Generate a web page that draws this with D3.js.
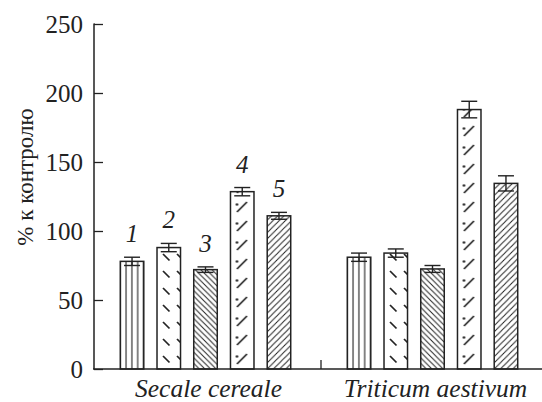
<!DOCTYPE html>
<html>
  <head>
    <meta charset="utf-8">
    <title>Chart</title>
    <script src="https://d3js.org/d3.v7.min.js"></script>
    <style>
      body { margin: 0; background: #fff; }
    </style>
  </head>
  <body>
    <script type="text/javascript">
    // data
    var species = ["Secale cereale", "Triticum aestivum"];
    var series = ["1", "2", "3", "4", "5"];
    var secaleValues = [78, 88, 72, 128.5, 111];
    var secaleErrors = [3, 3, 2, 3, 2.5];
    var triticumValues = [81, 84, 72.5, 188, 134.5];
    var triticumErrors = [3, 3, 2.5, 6, 5.5];
    var yTicks = [0, 50, 100, 150, 200, 250];

    var w = 542;
    var h = 402;
    var ink = "#222";
    var serif = "Liberation Serif";

    var rows = [];
    [secaleValues, triticumValues].forEach(function(vals, g) {
      var errs = g === 0 ? secaleErrors : triticumErrors;
      vals.forEach(function(v, i) {
        rows.push({ group: species[g], g: g, s: series[i], i: i, v: v, e: errs[i] });
      });
    });

    var x0 = d3.scaleBand().domain(species).range([92, 546]);
    var x1 = d3.scaleBand().domain(series).range([0, x0.bandwidth()])
               .paddingInner(0.36).paddingOuter(0.77);
    var y = d3.scaleLinear().domain([0, 250]).range([369, 24]);

    function barX(d) { return x0(d.group) + x1(d.s); }

    var svg = d3.select("body").append("svg")
                .attr("width", w)
                .attr("height", h)
                .attr("font-family", serif);

    // hatch patterns, one per bar so the tiles start at the bar's left edge
    var defs = svg.append("defs");
    var tiles = {
      "1": [5.8, 10, function(p) {
        p.append("line").attr("x1", 0).attr("x2", 0).attr("y1", 0).attr("y2", 10)
         .attr("stroke", ink).attr("stroke-width", 1.1);
        p.append("line").attr("x1", 5.8).attr("x2", 5.8).attr("y1", 0).attr("y2", 10)
         .attr("stroke", ink).attr("stroke-width", 1.1);
      }],
      "2": [14, 17, function(p) {
        p.append("line").attr("x1", 6).attr("y1", 4).attr("x2", 12.5).attr("y2", 10.5)
         .attr("stroke", ink).attr("stroke-width", 1.7);
      }],
      "3": [5.6, 5.6, function(p) {
        p.append("path").attr("d", "M-1,-1L6.6,6.6M-3,2.6L3,8.6M2.6,-3L8.6,3")
         .attr("stroke", ink).attr("stroke-width", 1);
      }],
      "4": [24, 19, function(p) {
        p.append("line").attr("x1", 6.5).attr("y1", 14).attr("x2", 16.5).attr("y2", 4)
         .attr("stroke", ink).attr("stroke-width", 1.7);
        p.append("circle").attr("cx", 6.5).attr("cy", 6.5).attr("r", 1.3).attr("fill", ink);
      }],
      "5": [6.2, 6.2, function(p) {
        p.append("path").attr("d", "M-1,7.2L7.2,-1M-3,3L3,-3M3.2,9.2L9.2,3.2")
         .attr("stroke", ink).attr("stroke-width", 1);
      }]
    };
    rows.forEach(function(d) {
      var t = tiles[d.s];
      var p = defs.append("pattern")
        .attr("id", "p" + d.s + "_" + d.g)
        .attr("patternUnits", "userSpaceOnUse")
        .attr("x", barX(d))
        .attr("y", y(0))
        .attr("width", t[0])
        .attr("height", t[1]);
      p.append("rect").attr("width", t[0]).attr("height", t[1]).attr("fill", "#fff");
      t[2](p);
    });

    // bars
    svg.selectAll("rect.bar")
       .data(rows)
       .enter()
       .append("rect")
       .attr("class", "bar")
       .attr("x", barX)
       .attr("y", function(d) { return y(d.v); })
       .attr("width", x1.bandwidth())
       .attr("height", function(d) { return y(0) - y(d.v); })
       .attr("fill", function(d) { return "url(#p" + d.s + "_" + d.g + ")"; })
       .attr("stroke", ink)
       .attr("stroke-width", 1.5);

    // error bars
    var cap = 8;
    var eb = svg.selectAll("g.err")
       .data(rows)
       .enter()
       .append("g")
       .attr("class", "err")
       .attr("stroke", ink)
       .attr("stroke-width", 1.4)
       .attr("transform", function(d) {
         return "translate(" + (barX(d) + x1.bandwidth() / 2) + ",0)";
       });
    eb.append("line")
      .attr("y1", function(d) { return y(d.v - d.e); })
      .attr("y2", function(d) { return y(d.v + d.e); });
    eb.append("line")
      .attr("x1", -cap).attr("x2", cap)
      .attr("y1", function(d) { return y(d.v + d.e); })
      .attr("y2", function(d) { return y(d.v + d.e); });
    eb.append("line")
      .attr("x1", -cap).attr("x2", cap)
      .attr("y1", function(d) { return y(d.v - d.e); })
      .attr("y2", function(d) { return y(d.v - d.e); });

    // series numbers above first group
    svg.selectAll("text.num")
       .data(rows.filter(function(d) { return d.g === 0; }))
       .enter()
       .append("text")
       .attr("class", "num")
       .attr("text-anchor", "middle")
       .attr("font-style", "italic")
       .attr("font-size", 25)
       .attr("fill", ink)
       .attr("x", function(d) { return barX(d) + x1.bandwidth() / 2; })
       .attr("y", function(d) { return y(d.v + d.e) - 15; })
       .text(function(d) { return d.s; });

    // y axis
    var yAxis = d3.axisLeft(y)
                  .tickValues(yTicks)
                  .tickSize(-9)
                  .tickPadding(11);
    var ga = svg.append("g")
      .attr("transform", "translate(94,0)")
      .call(yAxis)
      .attr("font-family", serif)
      .attr("font-size", 25);
    ga.select(".domain").attr("stroke", ink).attr("stroke-width", 1.5)
      .attr("d", "M-0.5," + y(250) + "H0V" + y(0));
    ga.selectAll(".tick line").attr("stroke", ink).attr("stroke-width", 1.3);
    ga.selectAll(".tick text").attr("fill", ink);

    // x axis baseline and group separator
    svg.append("line")
       .attr("x1", 93).attr("x2", w)
       .attr("y1", y(0)).attr("y2", y(0))
       .attr("stroke", ink).attr("stroke-width", 1.5);
    svg.append("line")
       .attr("x1", x0(species[1]) + 2).attr("x2", x0(species[1]) + 2)
       .attr("y1", y(0) - 9).attr("y2", y(0))
       .attr("stroke", ink).attr("stroke-width", 1.3);

    svg.selectAll("text.grp")
       .data(species)
       .enter()
       .append("text")
       .attr("class", "grp")
       .attr("text-anchor", "middle")
       .attr("font-style", "italic")
       .attr("font-size", 25.5)
       .attr("fill", ink)
       .attr("x", function(d) { return x0(d) + x0.bandwidth() / 2 + 3; })
       .attr("y", 397)
       .text(function(d) { return d; });

    // y label
    svg.append("text")
       .attr("text-anchor", "middle")
       .attr("font-size", 23)
       .attr("fill", ink)
       .attr("transform", "translate(33,177) rotate(-90)")
       .text("% к контролю");
    </script>
  </body>
</html>
